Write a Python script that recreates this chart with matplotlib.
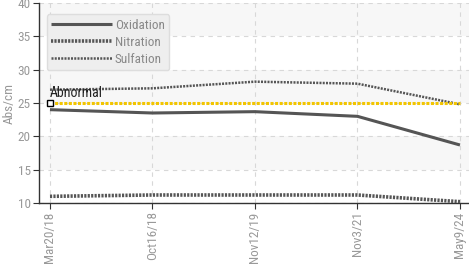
import matplotlib
matplotlib.use("Agg")
import matplotlib.pyplot as plt

dates = ["Mar20/18", "Oct16/18", "Nov12/19", "Nov3/21", "May9/24"]
oxidation = [24.0, 23.5, 23.7, 23.0, 18.7]
nitration = [11.0, 11.2, 11.2, 11.2, 10.2]
sulfation = [27.0, 27.2, 28.2, 27.9, 24.8]
abnormal = 25
y_ticks = [10, 15, 20, 25, 30, 35, 40]

plt.rcParams['font.family'] = ['Roboto Condensed', 'Roboto', 'DejaVu Sans']
fig = plt.figure(figsize=(4.69, 2.69), dpi=100)
ax = fig.add_axes([39/469, 1-203/269, 1-39/469, 200/269])
x = list(range(len(dates)))

# alternating bands
for i in range(len(y_ticks)-1):
    if (len(y_ticks)-2-i) % 2 == 0:
        ax.axhspan(y_ticks[i], y_ticks[i+1], color='#f7f7f7', zorder=0, lw=0)

ax.plot(x, oxidation, color='#555555', lw=2.2, solid_capstyle='butt', label='Oxidation', zorder=3)
ax.plot(x, nitration, color='#555555', lw=2.6, linestyle=(0, (0.6, 0.35)), label='Nitration', zorder=3)
ax.plot(x, sulfation, color='#555555', lw=1.8, linestyle=(0, (0.8, 0.5)), label='Sulfation', zorder=3)

ax.plot([x[0], x[-1]], [abnormal, abnormal], color='#f2c500', lw=2.2, linestyle=(0, (1, 0.5)), zorder=4)
ax.plot([x[0]], [abnormal], marker='s', ms=5, mfc='white', mec='black', mew=1, zorder=5, clip_on=False)
ax.text(x[0], abnormal + 0.5, "Abnormal", fontsize=10, color='#222222',
        ha='left', va='bottom', zorder=6)

ax.set_xlim(-0.107, 4.088)
ax.set_ylim(10, 40)
ax.set_yticks(y_ticks)
ax.set_xticks(x)
ax.set_xticklabels(dates, rotation=90)
ax.grid(True, color='#d8d8d8', linestyle=(0, (4, 4)), lw=0.8)
ax.set_axisbelow(True)
for s in ['top', 'right']:
    ax.spines[s].set_visible(False)
for s in ['left', 'bottom']:
    ax.spines[s].set_color('#333333')
    ax.spines[s].set_linewidth(1)
ax.tick_params(axis='both', colors='#333333', labelcolor='#999999', labelsize=9.5, length=4, pad=2)
ax.set_ylabel("Abs/cm", color='#999999', fontsize=9.5, labelpad=1)

leg = ax.legend(loc='upper left', bbox_to_anchor=(0.018, 0.945), handlelength=4.6, fontsize=9.5,
                frameon=True, fancybox=True, borderpad=0.35, labelspacing=0.3, handletextpad=0.2,
                borderaxespad=0)
leg.get_frame().set_facecolor('#eeeeee')
leg.get_frame().set_edgecolor('#dddddd')
leg.get_frame().set_alpha(1)
for t in leg.get_texts():
    t.set_color('#888888')

fig.savefig("out.png", dpi=100)
